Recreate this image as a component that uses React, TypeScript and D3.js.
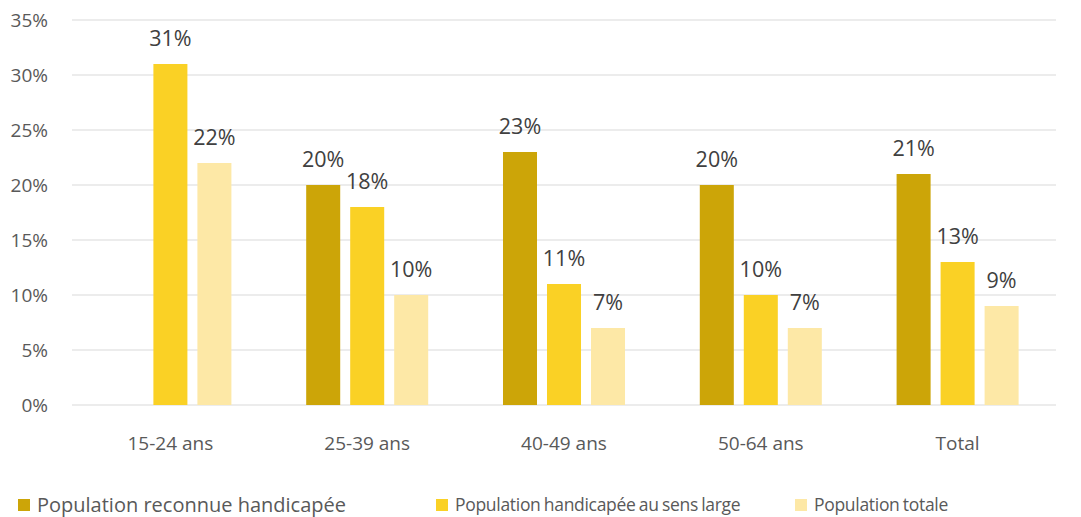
// Grouped bar chart - share by age group for three populations

import React from 'react';
import * as d3 from 'd3';

const categories = ['15-24 ans', '25-39 ans', '40-49 ans', '50-64 ans', 'Total'];
const seriesNames = [
  'Population reconnue handicapée',
  'Population handicapée au sens large',
  'Population totale',
];
// null = no bar for that group
const reconnue: (number | null)[] = [null, 20, 23, 20, 21];
const sensLarge: (number | null)[] = [31, 18, 11, 10, 13];
const totale: (number | null)[] = [22, 10, 7, 7, 9];
const yTicks = [0, 5, 10, 15, 20, 25, 30, 35];

const colors = ['#CCA508', '#FAD125', '#FDE8A6'];
const font = '"Open Sans", Lato, sans-serif';
const textColor = '#595959';

const App = () => {
  const width = 1081, height = 517;
  const margin = { top: 20, right: 25, bottom: 112, left: 72 };

  const seriesValues = [reconnue, sensLarge, totale];

  // outer scale for age groups
  const x0 = d3.scaleBand()
    .domain(categories)
    .range([margin.left, width - margin.right])
    .paddingInner(0.38)
    .paddingOuter(0.19);

  // inner scale for the three series inside a group
  const x1 = d3.scaleBand()
    .domain(seriesNames)
    .range([0, x0.bandwidth()])
    .paddingInner(0.227);

  const y = d3.scaleLinear()
    .domain([0, 35])
    .range([height - margin.bottom, margin.top]);

  // legend layout (entries 2 and 3 are squeezed in the original)
  const legendX = [18, 436, 795];
  const legendSize = [20, 17.5, 17.5];
  const legendLetter = [0, -0.3, -0.3];
  const legendWord = [0, -1, -1];

  return (
    <svg width={width} height={height} style={{ position: 'absolute', left: 0, top: 0, background: '#fff' }}>
      {/* gridlines + y tick labels */}
      {yTicks.map(t => (
        <g key={t}>
          <line x1={margin.left} x2={width - margin.right} y1={y(t)} y2={y(t)} stroke="#D9D9D9" strokeWidth={1} />
          <text x={48} y={y(t)} dy="0.35em" textAnchor="end" fontFamily={font} fontSize={19} fill={textColor}>{t}%</text>
        </g>
      ))}

      {/* bars */}
      {categories.map((c, i) => (
        <g key={c} transform={`translate(${x0(c)},0)`}>
          {seriesNames.map((s, j) => {
            const v = seriesValues[j][i];
            if (v == null) return null;
            return (
              <g key={s}>
                <rect x={x1(s)} y={y(v)} width={x1.bandwidth()} height={y(0) - y(v)} fill={colors[j]} />
                <text x={(x1(s) as number) + x1.bandwidth() / 2} y={y(v) - 18} textAnchor="middle" fontFamily={font} fontSize={21.5} fill="#404040">{v}%</text>
              </g>
            );
          })}
        </g>
      ))}

      {/* category labels */}
      {categories.map(c => (
        <text key={c} x={(x0(c) as number) + x0.bandwidth() / 2} y={443} dy="0.35em" textAnchor="middle" fontFamily={font} fontSize={19} fill={textColor}>{c}</text>
      ))}

      {/* legend */}
      {seriesNames.map((s, j) => (
        <g key={s} transform={`translate(${legendX[j]},499)`}>
          <rect x={0} y={0} width={12} height={12} fill={colors[j]} />
          <text x={19} y={6} dy="0.35em" fontFamily={font} fontSize={legendSize[j]}
            letterSpacing={legendLetter[j]} wordSpacing={legendWord[j]} fill={textColor}>{s}</text>
        </g>
      ))}
    </svg>
  );
};

export default App;
